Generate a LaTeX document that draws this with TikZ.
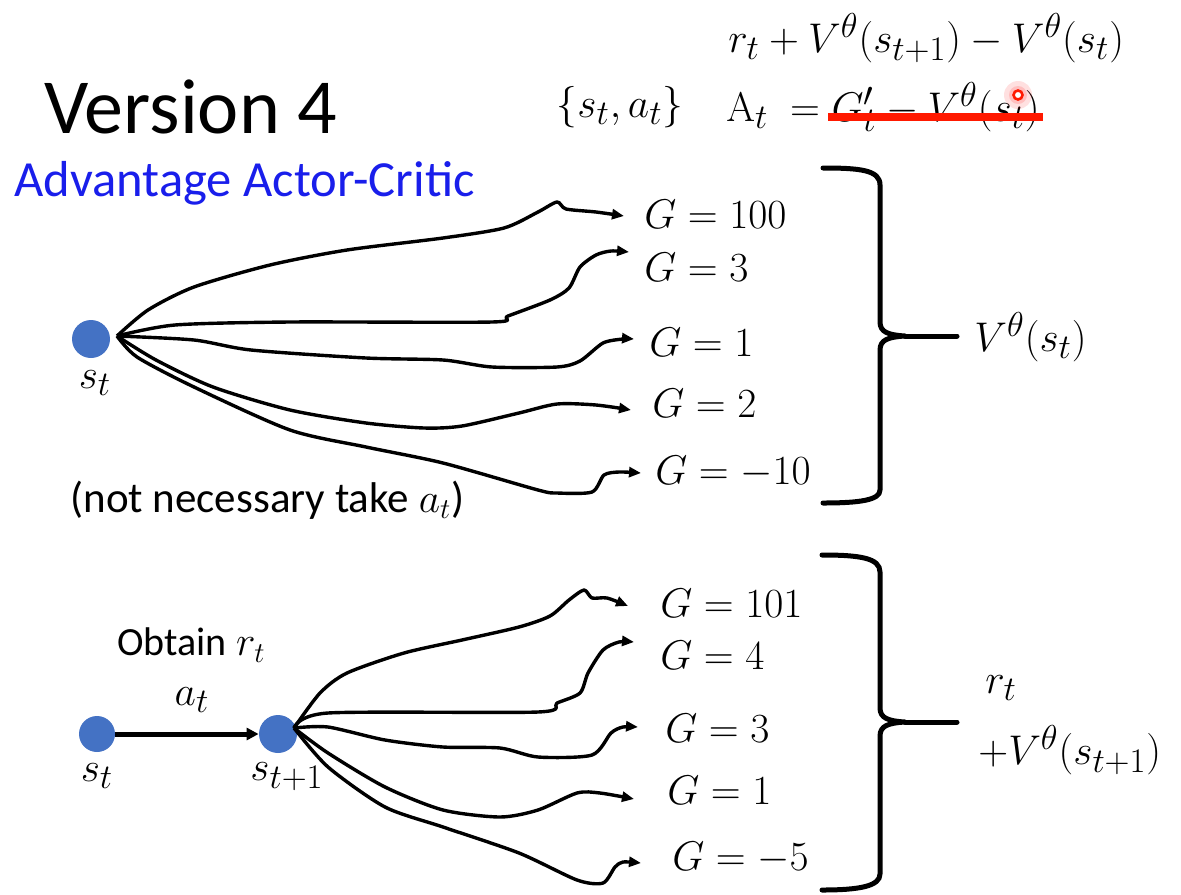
\documentclass[tikz,border=0pt]{standalone}
\usepackage[no-math]{fontspec}
\setmainfont{Carlito}
\usetikzlibrary{arrows.meta}
\definecolor{dotblue}{RGB}{68,114,196}
\definecolor{titleblue}{RGB}{25,30,235}
\definecolor{strike}{RGB}{255,25,0}
\tikzset{
  statedot/.style={circle,fill=dotblue,draw=none,minimum size=19pt,inner sep=0pt},
  branch/.style={line width=1.7pt,line join=round,-{Triangle[length=6pt,width=5pt]}},
  mathlbl/.style={font=\fontsize{22.7}{27}\selectfont,inner sep=0pt},
  glbl/.style={mathlbl,anchor=west},
  brace/.style={line width=2.5pt,line cap=round,line join=round},
  txt/.style={font=\fontsize{21.5}{25}\selectfont,inner sep=0pt}
}
\begin{document}
\begin{tikzpicture}[x=0.5pt,y=-0.5pt]
\useasboundingbox (0,0) rectangle (1181,894);

% titles
\node[anchor=west,inner sep=0pt,font=\fontsize{39}{44}\selectfont] (title) at (44,107) {Version 4};
\node[anchor=west,inner sep=0pt,font=\fontsize{25.3}{29}\selectfont,text=titleblue] (sub) at (14,183) {Advantage Actor-Critic};

% formulas top
\node[mathlbl,anchor=west] (f1) at (728,38) {$r_t + V^\theta(s_{t+1}) - V^\theta(s_t)$};
\node[mathlbl] (sa) at (620,107) {$\{s_t, a_t\}$};
\node[mathlbl,anchor=west] (adv) at (726,107) {$\mathrm{A}_t\ = G'_t - V^\theta(s_t)$};
\draw[strike,line width=4pt] (828,117) -- (1043,117);
\fill[red,opacity=0.12] (1018,95) circle (14);
\fill[red,opacity=0.15] (1018,95) circle (9);
\draw[strike,line width=1.3pt,fill=white] (1018,95) circle (4.5);

% top part
\node[statedot] (s1) at (91,339) {};
\node[mathlbl] (s1l) at (95,383) {$s_t$};

\node[glbl] (g1) at (644,214) {$G = 100$};
\node[glbl] (g2) at (644,267) {$G = 3$};
\node[glbl] (g3) at (649,342) {$G = 1$};
\node[glbl] (g4) at (652,403) {$G = 2$};
\node[glbl] (g5) at (655,472) {$G = -10$};
\coordinate (e1) at (624,216);
\coordinate (e2) at (629,252);
\coordinate (e3) at (634,339);
\coordinate (e4) at (631,410);
\coordinate (e5) at (641,473);

\coordinate (o1) at (117,336);
\draw[branch] plot[smooth,tension=0.45] coordinates {(o1) (148,310) (194,287) (270,265) (347,250) (443,238) (504,228) (538,212) (557,202) (566,209) (596,212) (e1)};
\draw[branch] plot[smooth,tension=0.45] coordinates {(o1) (175,325) (290,322) (492,322) (508,316) (550,300) (569,288) (580,267) (596,255) (611,251) (e2)};
\draw[branch] plot[smooth,tension=0.45] coordinates {(o1) (194,340) (251,350) (366,358) (443,360) (492,367) (557,367) (580,361) (603,343) (623,339) (e3)};
\draw[branch] plot[smooth,tension=0.45] coordinates {(o1) (156,360) (213,387) (290,410) (366,423) (424,428) (462,426) (519,413) (557,404) (596,405) (e4)};
\draw[branch] plot[smooth,tension=0.45] coordinates {(o1) (137,357) (194,387) (290,430) (366,447) (443,463) (538,490) (557,493) (592,492) (604,475) (619,472) (e5)};

\node[txt,anchor=west] (note) at (70,500) {(not necessary take $a_t$)};

% brace top
\draw[brace] (823,168) .. controls (860,168) and (880,170) .. (880,185) -- (880,322)
  .. controls (880,332) and (888,335) .. (905,336)
  .. controls (888,337) and (880,340) .. (880,350) -- (880,490)
  .. controls (880,500) and (860,503) .. (823,503);
\coordinate (b1) at (905,336);
\node[mathlbl,anchor=west] (v1) at (974,337) {$V^\theta(s_t)$};
\draw[brace] (b1) -- (957,336);

% bottom part
\node[statedot,minimum size=18pt] (s2) at (97,734) {};
\node[statedot] (s3) at (278,734) {};
\draw[line width=2.5pt,-{Triangle[length=6pt,width=6pt]}] (s2) -- (s3);
\node[mathlbl] (s2l) at (97,776) {$s_t$};
\node[mathlbl] (s3l) at (287,777) {$s_{t+1}$};
\node[txt,font=\fontsize{20}{24}\selectfont,anchor=west] (obt) at (117,645) {Obtain $r_t$};
\node[mathlbl] (at) at (192,700) {$a_t$};

\node[glbl] (h1) at (660,603) {$G = 101$};
\node[glbl] (h2) at (660,655) {$G = 4$};
\node[glbl] (h3) at (665,728) {$G = 3$};
\node[glbl] (h4) at (667,790) {$G = 1$};
\node[glbl] (h5) at (672,858) {$G = -5$};
\coordinate (k1) at (628,606);
\coordinate (k2) at (634,642);
\coordinate (k3) at (638,727);
\coordinate (k4) at (634,799);
\coordinate (k5) at (641,863);

\coordinate (o2) at (294,728);
\draw[branch] plot[smooth,tension=0.45] coordinates {(o2) (320,693) (347,673) (404,653) (462,640) (519,627) (550,616) (569,600) (584,590) (592,598) (607,598) (k1)};
\draw[branch] plot[smooth,tension=0.45] coordinates {(o2) (328,713) (538,712) (557,703) (580,693) (588,673) (603,650) (619,642) (k2)};
\draw[branch] plot[smooth,tension=0.45] coordinates {(o2) (328,727) (385,740) (443,747) (500,748) (538,757) (592,755) (611,733) (623,727) (k3)};
\draw[branch] plot[smooth,tension=0.45] coordinates {(o2) (328,753) (385,787) (443,810) (500,817) (538,810) (577,793) (600,793) (k4)};
\draw[branch] plot[smooth,tension=0.45] coordinates {(o2) (328,767) (385,807) (443,827) (519,853) (577,880) (603,883) (615,867) (623,862) (k5)};

% brace bottom
\draw[brace] (822,555) .. controls (860,555) and (880,558) .. (880,572) -- (880,708)
  .. controls (880,718) and (888,721) .. (905,722)
  .. controls (888,723) and (880,726) .. (880,736) -- (880,874)
  .. controls (880,886) and (860,890) .. (822,890);
\coordinate (b2) at (905,722);
\draw[brace] (b2) -- (957,722);
\node[mathlbl,anchor=west] (r1) at (985,688) {$r_t$};
\node[mathlbl,anchor=west] (v2) at (978,750) {$+V^\theta(s_{t+1})$};
\end{tikzpicture}
\end{document}
